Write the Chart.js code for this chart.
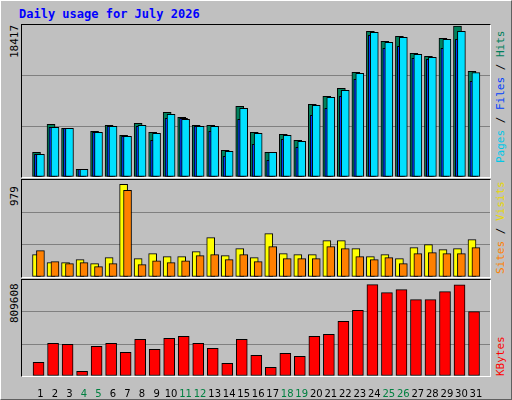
<!DOCTYPE html>
<html>
<head>
<meta charset="utf-8">
<script src="https://cdn.jsdelivr.net/npm/chart.js@4"></script>
<style>
  body { margin: 0; background: #c0c0c0; }
  #frame { position: absolute; left: 0; top: 0; width: 510px; height: 398px; background: #c0c0c0;
    border-top: 1px solid #fff; border-left: 1px solid #fff; border-right: 1px solid #606060; border-bottom: 1px solid #606060; }
  .panel { position: absolute; left: 21px; width: 470px; border-left: 1px solid #000; border-top: 1px solid #000;
    border-right: 1px solid #fff; border-bottom: 1px solid #fff; box-sizing: border-box; }
  canvas { position: absolute; }
  .title { position: absolute; left: 19px; top: 7px; font: bold 12px "DejaVu Sans Mono", monospace; color: #0000ff; }
  .vl { position: absolute; transform-origin: left top; transform: rotate(-90deg); white-space: nowrap;
    font: 11px "DejaVu Sans Mono", monospace; }
</style>
</head>
<body>
<div id="frame"></div>
<div class="title">Daily usage for July 2026</div>
<div class="panel" style="top:24px;height:154px"></div>
<div class="panel" style="top:179px;height:99px"></div>
<div class="panel" style="top:279px;height:98px"></div>
<canvas id="c1" style="left:22px;top:25px;width:468px;height:152px"></canvas>
<canvas id="c2" style="left:22px;top:180px;width:468px;height:97px"></canvas>
<canvas id="c3" style="left:22px;top:280px;width:468px;height:120px"></canvas>
<div class="vl" style="left:8px;top:58px">18417</div>
<div class="vl" style="left:8px;top:206px">979</div>
<div class="vl" style="left:8px;top:323px">809608</div>
<div class="vl" style="left:494px;top:163px"><span style="color:#00c8e8">Pages</span> / <span style="color:#0040ff">Files</span> / <span style="color:#00805c">Hits</span></div>
<div class="vl" style="left:494px;top:274px"><span style="color:#ff8000">Sites</span> / <span style="color:#e8d800">Visits</span></div>
<div class="vl" style="left:494px;top:376px"><span style="color:#ff0000">KBytes</span></div>
<script>
var days = [];
for (var d = 1; d <= 31; d++) days.push(d);
var weekendDays = [4, 5, 11, 12, 18, 19, 25, 26];

var hits = [3010, 6430, 5940, 940, 5570, 6300, 5080, 6550, 5450, 7890, 7280, 6300, 6300, 3260, 8620, 5450,
  3010, 5210, 4480, 8870, 9840, 10820, 12770, 17770, 16550, 17160, 15090, 14720, 16920, 18417, 12890];
var files = [2770, 6060, 5940, 940, 5450, 6180, 4960, 6300, 5330, 7650, 7040, 6180, 6180, 3130, 8380, 5330,
  3010, 5080, 4350, 8750, 9720, 10570, 12650, 17650, 16430, 17030, 14960, 14600, 16790, 17770, 12730];
var pages = [2770, 6060, 5940, 940, 5450, 6180, 4960, 6180, 4470, 7160, 7160, 6180, 5570, 2520, 7030, 3990,
  2030, 4590, 3620, 7520, 8380, 9840, 11910, 17280, 15700, 15940, 14480, 14350, 15700, 16790, 11670];
var sites = [236, 151, 151, 183, 141, 204, 979, 194, 246, 215, 215, 268, 415, 225, 299, 204,
  458, 246, 236, 236, 384, 384, 299, 215, 236, 194, 310, 341, 289, 299, 394];
var visits = [278, 162, 141, 151, 109, 141, 915, 130, 172, 151, 172, 225, 236, 183, 236, 162,
  320, 194, 194, 194, 320, 299, 215, 183, 204, 141, 246, 257, 246, 246, 310];
var kbytes = [121180, 289660, 280790, 41380, 263050, 289660, 209850, 325120, 236450, 333990, 351720, 289660,
  245320, 112310, 325120, 183250, 76850, 200990, 174380, 351720, 369460, 484730, 582270, 809608, 738920,
  765520, 676850, 676850, 747790, 809000, 570440];

function pts(arr, off) {
  return arr.map(function (v, i) { return { x: days[i] + off, y: v }; });
}
function bar(label, arr, off, color, width, order) {
  return { label: label, data: pts(arr, off), backgroundColor: color, borderColor: '#000', borderWidth: 1,
    borderSkipped: false, barThickness: width, grouped: false, order: order };
}
function makeChart(id, datasets, ymax, showX) {
  new Chart(document.getElementById(id), {
    type: 'bar',
    data: { datasets: datasets },
    options: {
      animation: false, responsive: false, devicePixelRatio: 1,
      layout: { padding: 0 },
      plugins: { legend: { display: false }, tooltip: { enabled: false } },
      scales: {
        x: {
          type: 'linear', min: 0.25, max: 31.45, display: showX,
          grid: { display: false }, border: { display: false },
          afterFit: function (s) { if (showX) s.height = 24; },
          afterBuildTicks: function (s) { s.ticks = days.map(function (v) { return { value: v }; }); },
          ticks: {
            autoSkip: false, maxRotation: 0, padding: 4,
            font: { family: 'DejaVu Sans', size: 10 },
            color: function (c) { return weekendDays.indexOf(c.tick.value) >= 0 ? '#008040' : '#000'; }
          }
        },
        y: {
          min: 0, max: ymax, display: true,
          afterFit: function (s) { s.width = 0; },
          afterBuildTicks: function (s) { s.ticks = [0, ymax / 3, ymax * 2 / 3, ymax].map(function (v) { return { value: v }; }); },
          ticks: { display: false },
          grid: { color: function (c) { return c.index === 1 || c.index === 2 ? '#808080' : 'rgba(0,0,0,0)'; }, lineWidth: 1, drawTicks: false },
          border: { display: false }
        }
      }
    }
  });
}
var c1 = document.getElementById('c1'); c1.width = 468; c1.height = 152;
var c2 = document.getElementById('c2'); c2.width = 468; c2.height = 97;
var c3 = document.getElementById('c3'); c3.width = 468; c3.height = 120;

makeChart('c1', [
  bar('Hits', hits, -0.27, '#00805c', 8, 3),
  bar('Pages', pages, -0.14, '#0040ff', 8, 2),
  bar('Files', files, 0, '#00e0ff', 8, 1)
], 18550, false);
makeChart('c2', [
  bar('Sites', sites, -0.27, '#ffff00', 8, 2),
  bar('Visits', visits, 0, '#ff8000', 8, 1)
], 1024, false);
makeChart('c3', [
  bar('KBytes', kbytes, -0.13, '#ff0000', 11, 1)
], 851000, true);
</script>
</body>
</html>
